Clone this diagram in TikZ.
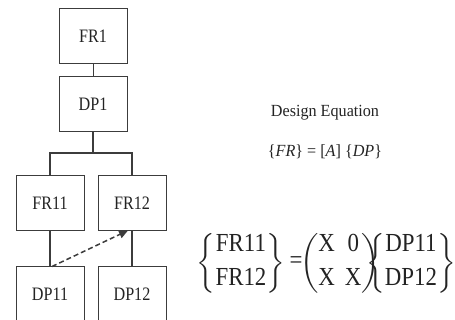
\documentclass[tikz,border=0pt]{standalone}
\usepackage{fix-cm}
\usepackage{amsmath}
\usepackage{fontspec}
\setmainfont{Liberation Serif}
\usetikzlibrary{arrows.meta, positioning}
\definecolor{adgray}{RGB}{60,60,60}
\definecolor{adtext}{RGB}{35,35,35}
\newcommand{\colvec}[2]{\left\{\begin{matrix}\mbox{#1}\\[4pt]\mbox{#2}\end{matrix}\right\}}

\begin{document}
\begin{tikzpicture}[
  x=1pt, y=-1pt,
  node distance=12pt and 13pt,
  every node/.style={text=adtext},
  fdbox/.style={draw=adgray,line width=1pt,minimum width=68pt,
    minimum height=55pt,inner sep=0pt,
    font=\fontsize{19}{22}\selectfont\addfontfeature{FakeStretch=0.85}},
  tree/.style={adgray,line width=1.4pt},
  coup/.style={adgray,line width=1.5pt,dash pattern=on 5pt off 3pt,
    -{Triangle[length=9pt,width=8pt]}},
  eqbig/.style={inner sep=0pt,
    font=\fontsize{26}{30}\selectfont\addfontfeature{FakeStretch=0.88}},
  eqsmall/.style={inner sep=0pt,
    font=\fontsize{17}{20}\selectfont\addfontfeature{FakeStretch=0.95}}
]
\useasboundingbox (0,0) rectangle (455,320);

\node[fdbox] (fr1) at (93,36.5) {FR1};
\node[fdbox, below=12pt of fr1] (dp1) {DP1};
\node[fdbox] (fr11) at (50,203.5) {FR11};
\node[fdbox, right=13pt of fr11] (fr12) {FR12};
\node[fdbox, below=35pt of fr11] (dp11) {DP11};
\node[fdbox, below=35pt of fr12] (dp12) {DP12};
\coordinate (br) at (93,153);

% FR1 → DP1
\draw[adgray,line width=1pt] (fr1.south) -- (dp1.north);

% DP1 → FR11, FR12
\draw[tree] (dp1.south) -- (br);
\draw[tree] (fr11.north) -- (fr11.north |- br) -- (fr12.north |- br) -- (fr12.north);

% FR → DP
\draw[tree] (fr11.south) -- (dp11.north);
\draw[tree] (fr12.south) -- (dp12.north);

% coupling DP11 → FR12
\draw[coup] ([xshift=2pt]dp11.north) -- ([xshift=-4pt,yshift=1pt]fr12.south);

% design equation
\node[eqsmall] (title) at (325,113) {Design Equation};
\node[eqsmall] (rel) at (325,152)
  {\{\textit{FR}\} = [\textit{A}] \{\textit{DP}\}};

\node[eqbig] (lhs) at (241,263) {$\colvec{FR11}{FR12}$};
\node[eqbig] (eq)  at (296,263) {=};
\node[eqbig] (mat) at (340,263)
  {$\begin{pmatrix}\mbox{X}&\mbox{0}\\[4pt]\mbox{X}&\mbox{X}\end{pmatrix}$};
\node[eqbig] (rhs) at (411,263) {$\colvec{DP11}{DP12}$};

\end{tikzpicture}
\end{document}
